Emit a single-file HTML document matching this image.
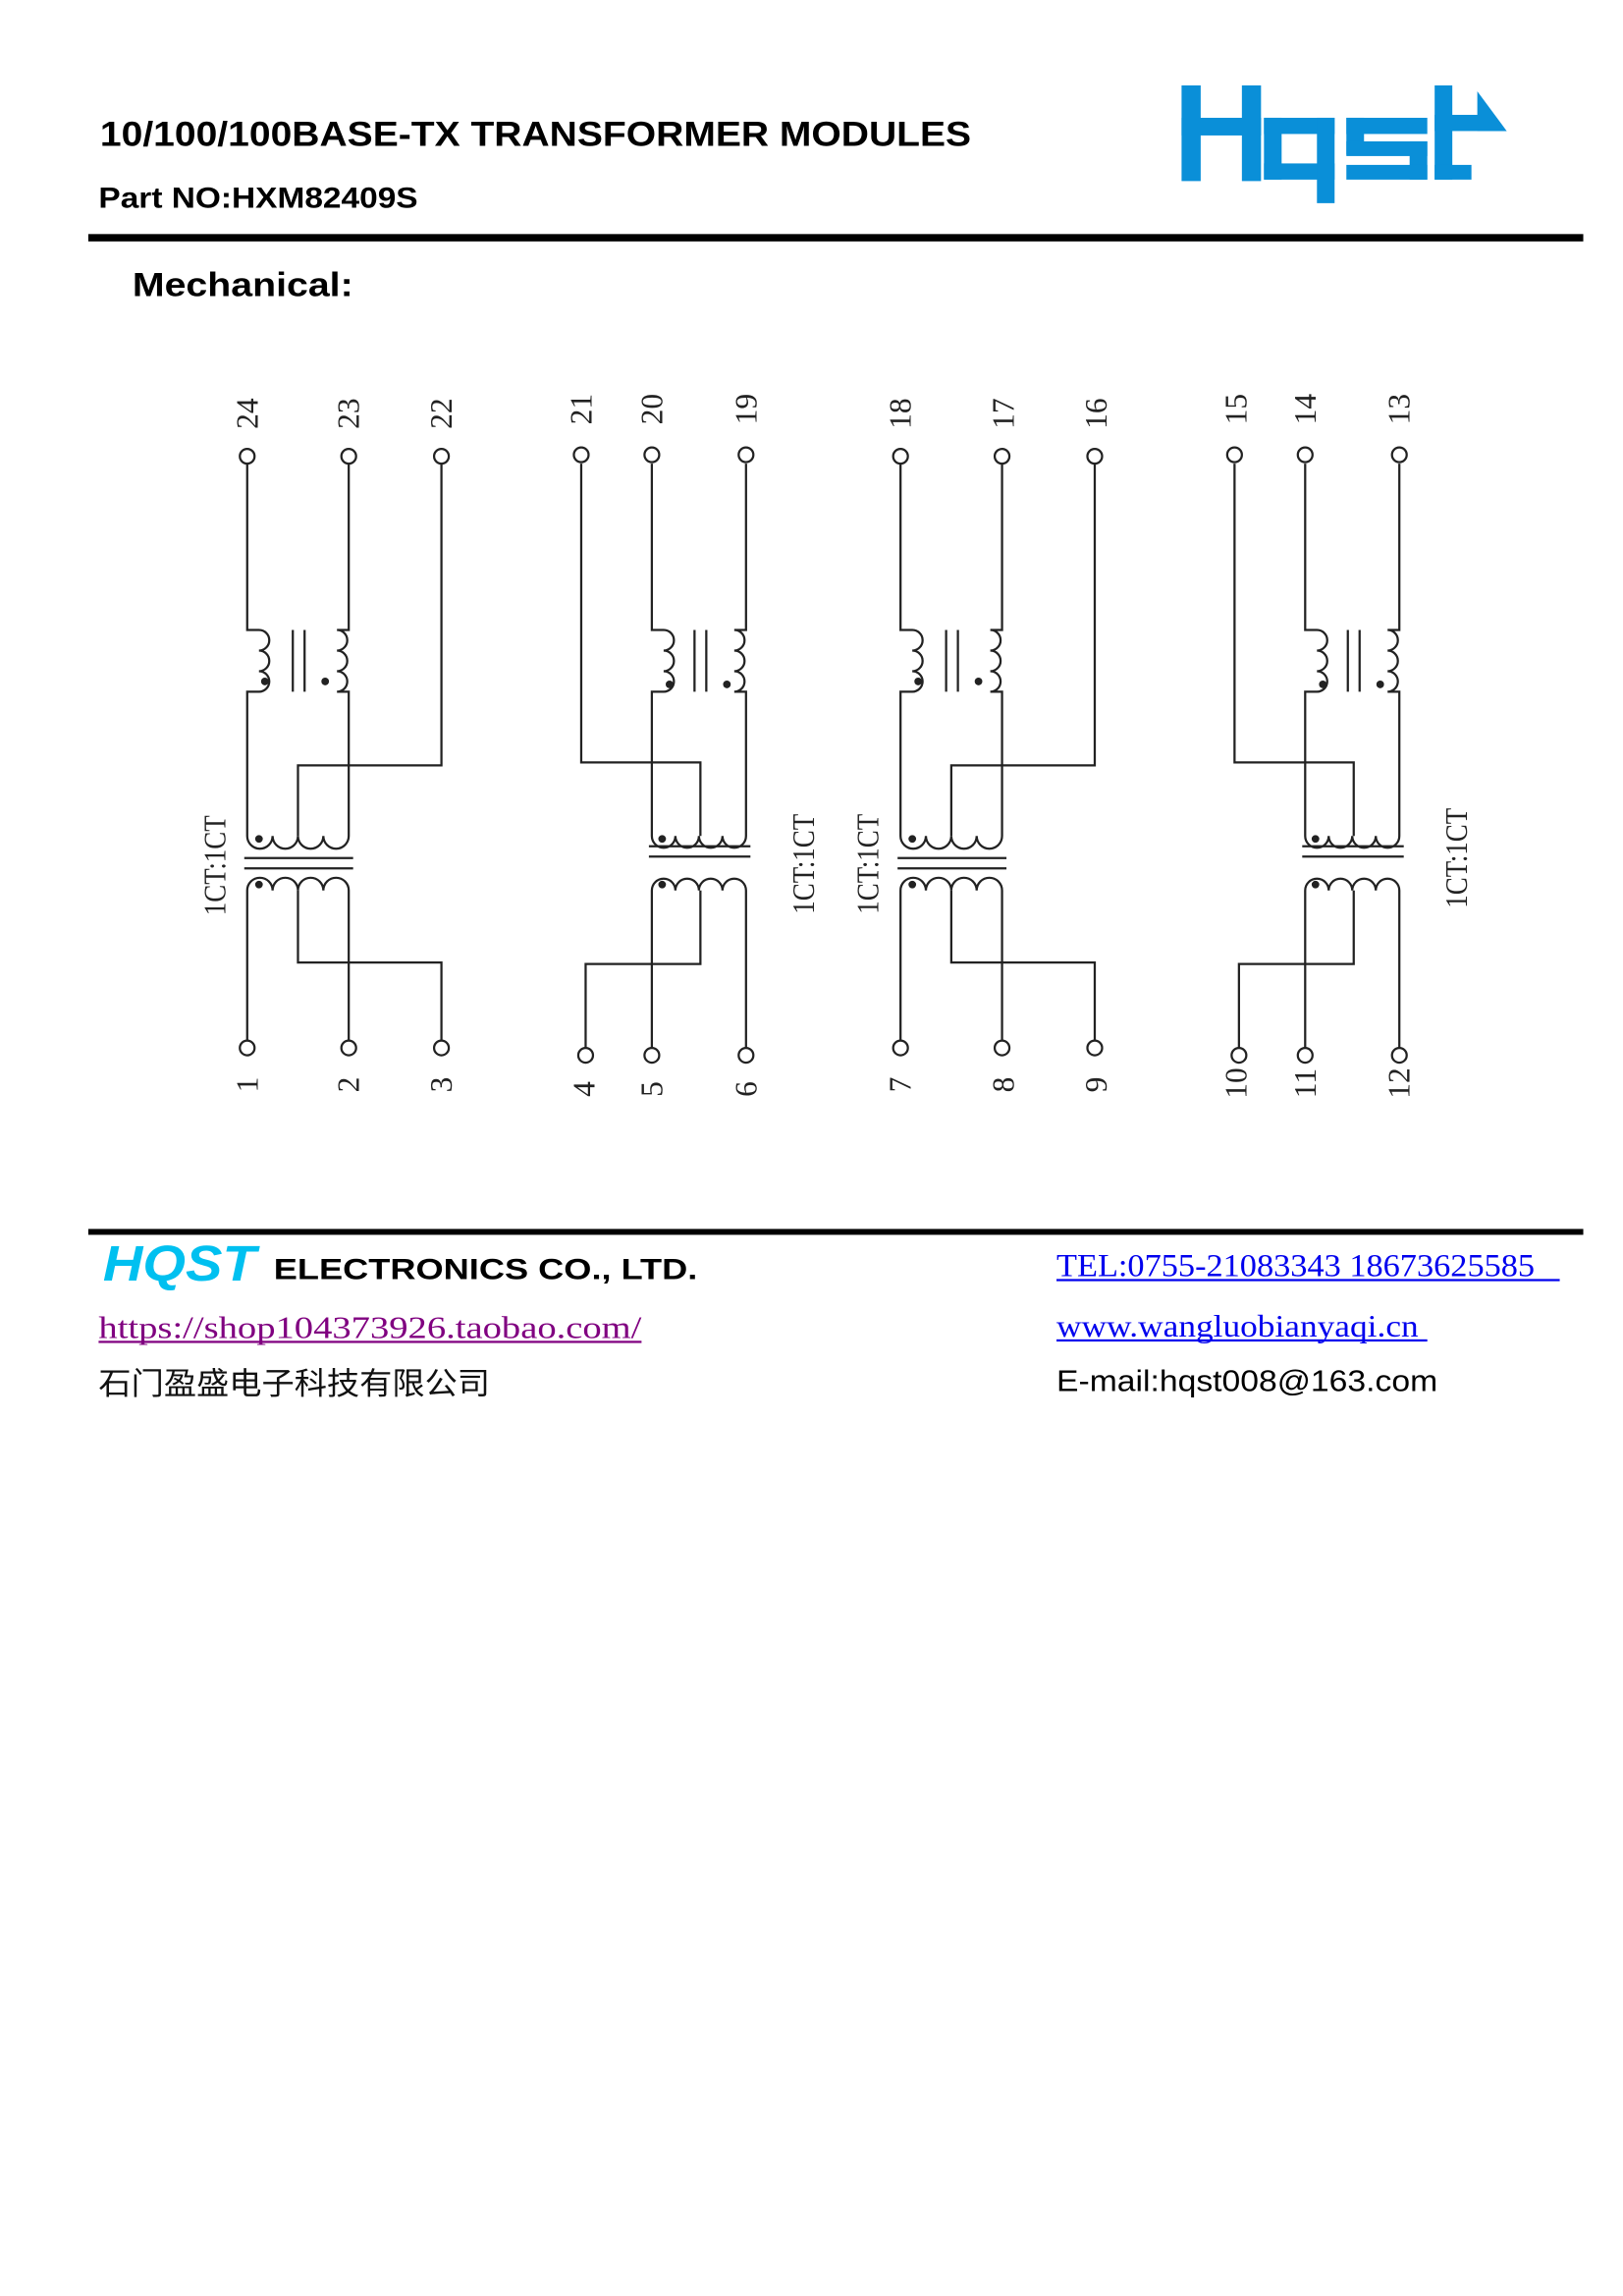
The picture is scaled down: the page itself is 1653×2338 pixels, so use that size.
<!DOCTYPE html>
<html><head><meta charset="utf-8"><style>
html,body{margin:0;padding:0;background:#fff;}
svg{display:block;}
.a{font-family:"Liberation Sans",Arial,sans-serif;font-weight:bold;fill:#000;}
.n{font-family:"Liberation Serif",serif;font-size:21px;fill:#222;}
.w{fill:none;stroke:#222;stroke-width:1.5;}
</style></head><body>
<svg width="1653" height="2338" viewBox="0 0 1103 1560" xmlns="http://www.w3.org/2000/svg">
<text class="a" x="68" y="99" font-size="23.5" textLength="592" lengthAdjust="spacingAndGlyphs">10/100/100BASE-TX TRANSFORMER MODULES</text>
<text class="a" x="67" y="141" font-size="19.5" textLength="217" lengthAdjust="spacingAndGlyphs">Part NO:HXM82409S</text>
<rect x="60" y="159" width="1016" height="5" fill="#000"/>
<text class="a" x="90" y="201" font-size="23" textLength="150" lengthAdjust="spacingAndGlyphs">Mechanical:</text>
<!-- logo -->
<g fill="#0A8FD8">
<rect x="803" y="58" width="13" height="65"/><rect x="844" y="58" width="13" height="65"/><rect x="803" y="80" width="54" height="12"/>
<rect x="859" y="80" width="48" height="11"/><rect x="859" y="80" width="12" height="42"/><rect x="859" y="111" width="48" height="11"/><rect x="895" y="80" width="12" height="58"/>
<rect x="915" y="80" width="55" height="11"/><rect x="915" y="80" width="12" height="25"/><rect x="915" y="96" width="55" height="10"/><rect x="958" y="96" width="12" height="26"/><rect x="915" y="112" width="55" height="10"/>
<rect x="975" y="58" width="12" height="64"/><rect x="975" y="78" width="30" height="11"/><rect x="975" y="112" width="25" height="10"/>
<polygon points="1004,62 1024,89 1004,89"/>
</g>
<defs>
<g id="A">
<path class="w" d="M168,315 V428 H176 a7,7 0 0 1 0,14 a7,7 0 0 1 0,14 a7,7 0 0 1 0,14 H168 V568 a8.6,8.6 0 0 0 17.25,0 a8.6,8.6 0 0 0 17.25,0 a8.6,8.6 0 0 0 17.25,0 a8.6,8.6 0 0 0 17.25,0 V470 H229 a7,7 0 0 0 0,-14 a7,7 0 0 0 0,-14 a7,7 0 0 0 0,-14 H237 V315"/>
<path class="w" d="M168,707 V605 a8.6,8.6 0 0 1 17.25,0 a8.6,8.6 0 0 1 17.25,0 a8.6,8.6 0 0 1 17.25,0 a8.6,8.6 0 0 1 17.25,0 V707"/>
<path class="w" d="M300,315 V520 H202.5 V568 M202.5,605 V654 H300 V707"/>
<path class="w" d="M199,428 V470 M207,428 V470 M166,583 H240 M166,590 H240"/>
<circle cx="180" cy="463" r="2.6"/><circle cx="221" cy="463" r="2.6"/><circle cx="176" cy="570" r="2.6"/><circle cx="176" cy="601" r="2.6"/>
<circle class="w" cx="168" cy="310" r="5"/><circle class="w" cx="237" cy="310" r="5"/><circle class="w" cx="300" cy="310" r="5"/>
<circle class="w" cx="168" cy="712" r="5"/><circle class="w" cx="237" cy="712" r="5"/><circle class="w" cx="300" cy="712" r="5"/>
</g>
<g id="B">
<path class="w" d="M443,315 V428 H451 a7,7 0 0 1 0,14 a7,7 0 0 1 0,14 a7,7 0 0 1 0,14 H443 V568 a8,8 0 0 0 16,0 a8,8 0 0 0 16,0 a8,8 0 0 0 16,0 a8,8 0 0 0 16,0 V470 H499 a7,7 0 0 0 0,-14 a7,7 0 0 0 0,-14 a7,7 0 0 0 0,-14 H507 V315"/>
<path class="w" d="M443,712 V605 a8,8 0 0 1 16,0 a8,8 0 0 1 16,0 a8,8 0 0 1 16,0 a8,8 0 0 1 16,0 V712"/>
<path class="w" d="M395,315 V518 H476 V568 M476,605 V655 H398 V712"/>
<path class="w" d="M472,428 V470 M480,428 V470 M441,575 H510 M441,582 H510"/>
<circle cx="455" cy="465" r="2.6"/><circle cx="494" cy="465" r="2.6"/><circle cx="450" cy="570" r="2.6"/><circle cx="450" cy="601" r="2.6"/>
<circle class="w" cx="395" cy="309" r="5"/><circle class="w" cx="443" cy="309" r="5"/><circle class="w" cx="507" cy="309" r="5"/>
<circle class="w" cx="398" cy="717" r="5"/><circle class="w" cx="443" cy="717" r="5"/><circle class="w" cx="507" cy="717" r="5"/>
</g>
</defs>
<g fill="#222"><use href="#A"/><use href="#A" transform="translate(444,0)"/><use href="#B"/><use href="#B" transform="translate(444,0)"/></g>
<g class="n" text-anchor="middle">
<text transform="translate(168,281) rotate(-90)" dy="7">24</text>
<text transform="translate(237,281) rotate(-90)" dy="7">23</text>
<text transform="translate(300,281) rotate(-90)" dy="7">22</text>
<text transform="translate(395,278) rotate(-90)" dy="7">21</text>
<text transform="translate(443,278) rotate(-90)" dy="7">20</text>
<text transform="translate(507,278) rotate(-90)" dy="7">19</text>
<text transform="translate(612,281) rotate(-90)" dy="7">18</text>
<text transform="translate(682,281) rotate(-90)" dy="7">17</text>
<text transform="translate(745,281) rotate(-90)" dy="7">16</text>
<text transform="translate(840,278) rotate(-90)" dy="7">15</text>
<text transform="translate(887,278) rotate(-90)" dy="7">14</text>
<text transform="translate(951,278) rotate(-90)" dy="7">13</text>
<text transform="translate(168,737) rotate(-90)" dy="7">1</text>
<text transform="translate(237,737) rotate(-90)" dy="7">2</text>
<text transform="translate(300,737) rotate(-90)" dy="7">3</text>
<text transform="translate(397,740) rotate(-90)" dy="7">4</text>
<text transform="translate(443,740) rotate(-90)" dy="7">5</text>
<text transform="translate(507,740) rotate(-90)" dy="7">6</text>
<text transform="translate(612,737) rotate(-90)" dy="7">7</text>
<text transform="translate(682,737) rotate(-90)" dy="7">8</text>
<text transform="translate(745,737) rotate(-90)" dy="7">9</text>
<text transform="translate(840,736) rotate(-90)" dy="7">10</text>
<text transform="translate(887,736) rotate(-90)" dy="7">11</text>
<text transform="translate(951,736) rotate(-90)" dy="7">12</text>
<text transform="translate(146,588) rotate(-90)" dy="7" textLength="68" lengthAdjust="spacingAndGlyphs">1CT:1CT</text>
<text transform="translate(546,587) rotate(-90)" dy="7" textLength="68" lengthAdjust="spacingAndGlyphs">1CT:1CT</text>
<text transform="translate(590,587) rotate(-90)" dy="7" textLength="68" lengthAdjust="spacingAndGlyphs">1CT:1CT</text>
<text transform="translate(990,583) rotate(-90)" dy="7" textLength="68" lengthAdjust="spacingAndGlyphs">1CT:1CT</text>
</g>
<!-- footer -->
<rect x="60" y="835" width="1016" height="4" fill="#000"/>
<text x="70" y="870" font-family="Liberation Sans,sans-serif" font-weight="bold" font-style="italic" font-size="34" fill="#00C0F0" textLength="104" lengthAdjust="spacingAndGlyphs">HQST</text>
<text class="a" x="186" y="869" font-size="20" textLength="288" lengthAdjust="spacingAndGlyphs">ELECTRONICS CO., LTD.</text>
<text x="67" y="909" font-family="Liberation Serif,serif" font-size="21" fill="#800080" textLength="369" lengthAdjust="spacingAndGlyphs">https://shop104373926.taobao.com/</text>
<rect x="67" y="911" width="369" height="1.5" fill="#800080"/>
<text x="67" y="947" font-family="Liberation Sans,'Noto Sans CJK SC',sans-serif" font-size="21" fill="#111" textLength="266" lengthAdjust="spacingAndGlyphs">石门盈盛电子科技有限公司</text>
<text x="718" y="867" font-family="Liberation Serif,serif" font-size="22" fill="#0000EE" textLength="325" lengthAdjust="spacingAndGlyphs">TEL:0755-21083343 18673625585</text>
<rect x="718" y="869" width="342" height="1.5" fill="#0000EE"/>
<text x="718" y="908" font-family="Liberation Serif,serif" font-size="21" fill="#0000EE" textLength="246" lengthAdjust="spacingAndGlyphs">www.wangluobianyaqi.cn</text>
<rect x="718" y="910" width="252" height="1.5" fill="#0000EE"/>
<text x="718" y="945" font-family="Liberation Sans,sans-serif" font-size="20.5" fill="#000" textLength="259" lengthAdjust="spacingAndGlyphs">E-mail:hqst008@163.com</text>
</svg>
</body></html>
